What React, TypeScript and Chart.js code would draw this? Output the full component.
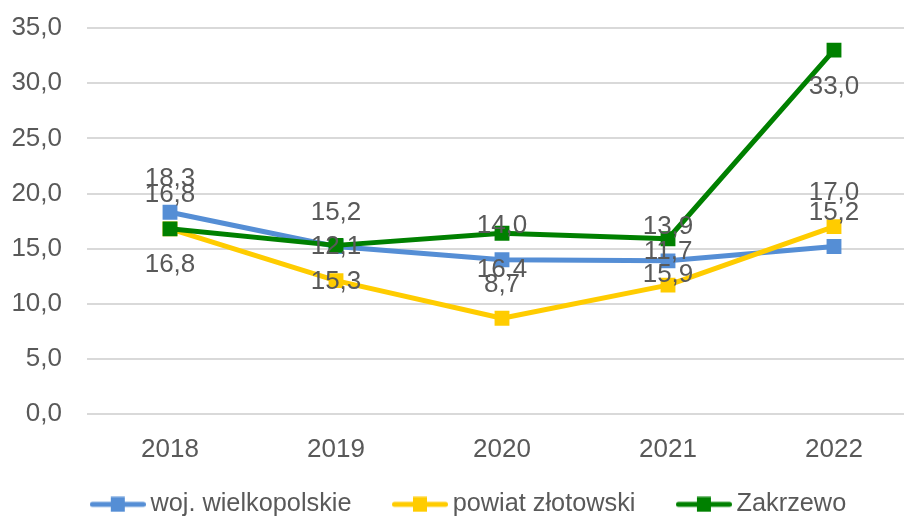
import React, { useEffect, useRef } from 'react';
import { Chart, registerables } from 'chart.js';

Chart.register(...registerables);

const years = ['2018', '2019', '2020', '2021', '2022'];
const seriesNames = ['woj. wielkopolskie', 'powiat złotowski', 'Zakrzewo'];
const wojValues = [18.3, 15.2, 14.0, 13.9, 15.2];
const powiatValues = [16.8, 12.1, 8.7, 11.7, 17.0];
const zakrzewoValues = [16.8, 15.3, 16.4, 15.9, 33.0];
const yTicks = [0, 5, 10, 15, 20, 25, 30, 35];

const COLORS = ['#558ED5', '#FFCC00', '#008000'];
const TEXT = '#595959';
const FONT = '"Liberation Sans", Arial, sans-serif';
const LABEL_OFFSETS = [-33.5, -33.5, 36.5];

const fmt = (v: number) => Number(v).toFixed(1).replace('.', ',');

function makeSymbol(color: string) {
  const c = document.createElement('canvas');
  c.width = 56;
  c.height = 16;
  const g = c.getContext('2d')!;
  g.strokeStyle = color;
  g.lineWidth = 5;
  g.lineCap = 'round';
  g.beginPath();
  g.moveTo(2.5, 8);
  g.lineTo(53.5, 8);
  g.stroke();
  g.fillStyle = color;
  g.fillRect(21, 0.5, 14, 15);
  return c;
}

const dataLabelPlugin = {
  id: 'dataLabels',
  afterDatasetsDraw(chart: any) {
    const ctx = chart.ctx;
    ctx.save();
    ctx.font = `26px ${FONT}`;
    ctx.fillStyle = TEXT;
    ctx.textAlign = 'center';
    ctx.textBaseline = 'middle';
    chart.data.datasets.forEach((ds: any, i: number) => {
      const meta = chart.getDatasetMeta(i);
      meta.data.forEach((pt: any, j: number) => {
        ctx.fillText(fmt(ds.data[j]), pt.x, pt.y + LABEL_OFFSETS[i]);
      });
    });
    ctx.restore();
  },
};

export default function App() {
  const ref = useRef<HTMLCanvasElement>(null);

  useEffect(() => {
    const canvas = ref.current!;
    const symbols = COLORS.map(makeSymbol);
    const values = [wojValues, powiatValues, zakrzewoValues];
    const chart = new Chart(canvas, {
      type: 'line',
      data: {
        labels: years,
        datasets: values.map((vals, i) => ({
          label: seriesNames[i],
          data: vals,
          yAxisID: 'y',
          order: 3 - i,
          borderColor: COLORS[i],
          backgroundColor: COLORS[i],
          borderWidth: 5,
          borderJoinStyle: 'round' as const,
          tension: 0,
          pointStyle: 'rect' as const,
          pointRadius: 10.5,
          pointBorderWidth: 0,
          pointBackgroundColor: COLORS[i],
          pointHoverRadius: 10.5,
        })),
      },
      options: {
        responsive: false,
        maintainAspectRatio: false,
        animation: false,
        layout: { padding: { left: 0, top: 28, right: 0, bottom: -9 } },
        scales: {
          x: {
            offset: true,
            grid: { display: false, drawTicks: false },
            border: { display: false },
            ticks: { color: TEXT, font: { family: FONT, size: 26 }, mirror: true, padding: -51 },
            afterFit: (s: any) => { s.height = 29; },
          },
          y: {
            position: 'left',
            min: yTicks[0],
            max: yTicks[yTicks.length - 1],
            grid: { color: '#d9d9d9', lineWidth: 2, drawTicks: true, tickLength: 13, tickColor: 'rgba(0,0,0,0)' },
            border: { display: false },
            ticks: {
              stepSize: yTicks[1] - yTicks[0],
              color: TEXT,
              font: { family: FONT, size: 26 },
              padding: 12,
              callback: (v: any) => fmt(Number(v)),
            },
            afterFit: (s: any) => { s.width = 87; },
          },
          yRight: {
            position: 'right',
            display: true,
            grid: { display: false, drawTicks: false },
            border: { display: false },
            ticks: { display: false },
            afterFit: (s: any) => { s.width = 27; },
          },
        },
        plugins: {
          tooltip: { enabled: false },
          legend: {
            position: 'bottom',
            labels: {
              usePointStyle: true,
              pointStyleWidth: 40,
              padding: 48.5,
              color: TEXT,
              font: { family: FONT, size: 25.3 },
              generateLabels: (ch: any) => {
                const items = Chart.defaults.plugins.legend.labels.generateLabels(ch);
                return items
                  .map((it: any) => ({ ...it, pointStyle: symbols[it.datasetIndex], fontColor: TEXT }))
                  .sort((a: any, b: any) => a.datasetIndex - b.datasetIndex);
              },
            },
          },
        },
      },
      plugins: [dataLabelPlugin],
    } as any);
    return () => chart.destroy();
  }, []);

  return (
    <div style={{ position: 'fixed', left: 0, top: 0, width: 904, height: 518, overflow: 'hidden', background: '#fff' }}>
      <canvas ref={ref} width={944} height={518} style={{ display: 'block', width: 944, height: 518 }} />
    </div>
  );
}
